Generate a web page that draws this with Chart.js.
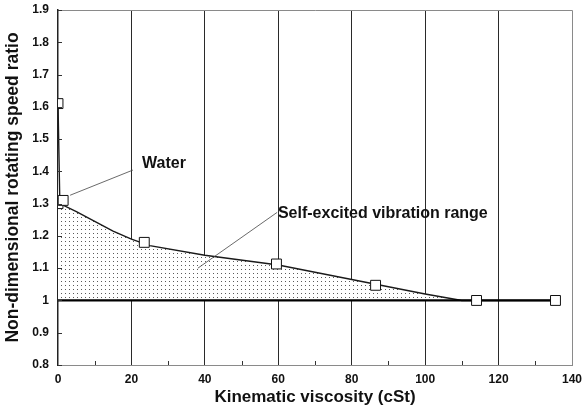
<!DOCTYPE html>
<html>
<head>
<meta charset="utf-8">
<script src="https://cdn.jsdelivr.net/npm/chart.js@4/dist/chart.umd.min.js"></script>
<style>
html,body{margin:0;padding:0;background:#fff;}
#wrap{width:582px;height:412px;position:relative;}
</style>
</head>
<body>
<div id="wrap"><canvas id="c" width="582" height="412"></canvas></div>
<script>
// Boundary curve of the self-excited vibration range
const curveX = [0, 0.5, 5, 10, 15, 20, 25, 40, 60, 80, 100, 110, 135.5];
const curveY = [1.61, 1.30, 1.275, 1.245, 1.215, 1.19, 1.17, 1.14, 1.11, 1.065, 1.02, 1.0, 1.0];
// Measured points (square markers)
const markX = [0, 0, 1.4, 23.5, 59.5, 86.5, 114, 135.5];
const markY = [1.61, 1.30, 1.31, 1.18, 1.113, 1.047, 1.0, 1.0];
// Reference line at ratio 1
const baseX = [0, 135.5];
const baseY = [1.0, 1.0];
// Axis ticks
const xTicks = [0, 20, 40, 60, 80, 100, 120, 140];
const yTicks = ['0.8','0.9','1','1.1','1.2','1.3','1.4','1.5','1.6','1.7','1.8','1.9'];
const xTitle = 'Kinematic viscosity (cSt)';
const yTitle = 'Non-dimensional rotating speed ratio';
const labelWater = 'Water';
const labelRange = 'Self-excited vibration range';

const FONT = '"Liberation Sans", Arial, Helvetica, sans-serif';

function dotPattern(){
  const p = document.createElement('canvas');
  p.width = 4; p.height = 4;
  const g = p.getContext('2d');
  g.fillStyle = '#fff'; g.fillRect(0,0,4,4);
  g.fillStyle = '#5a5a5a'; g.fillRect(1,1,1,1);
  return document.getElementById('c').getContext('2d').createPattern(p,'repeat');
}

const toPts = (xs, ys) => xs.map((x,i)=>({x:x, y:ys[i]}));

const extras = {
  id: 'extras',
  afterDraw(chart){
    const ctx = chart.ctx, a = chart.chartArea;
    const xs = chart.scales.x, ys = chart.scales.y;
    ctx.save();
    // top & right frame
    ctx.strokeStyle = '#8a8a8a'; ctx.lineWidth = 1;
    ctx.beginPath();
    ctx.moveTo(a.left, a.top+0.5); ctx.lineTo(a.right+0.5, a.top+0.5);
    ctx.lineTo(a.right+0.5, a.bottom);
    ctx.stroke();
    // minor ticks inward
    ctx.strokeStyle = '#333';
    ctx.beginPath();
    [10,30,50,70,90,110,130].forEach(v=>{
      const px = Math.round(xs.getPixelForValue(v))+0.5;
      ctx.moveTo(px, a.bottom); ctx.lineTo(px, a.bottom-4);
    });
    yTicks.forEach(t=>{
      const py = Math.round(ys.getPixelForValue(parseFloat(t)))+0.5;
      ctx.moveTo(a.left, py); ctx.lineTo(a.left+4, py);
    });
    ctx.stroke();
    // annotations
    ctx.strokeStyle = '#444'; ctx.lineWidth = 0.8;
    ctx.beginPath();
    ctx.moveTo(xs.getPixelForValue(3.3), ys.getPixelForValue(1.326));
    ctx.lineTo(xs.getPixelForValue(20.4), ys.getPixelForValue(1.404));
    ctx.moveTo(xs.getPixelForValue(38.1), ys.getPixelForValue(1.10));
    ctx.lineTo(xs.getPixelForValue(59.7), ys.getPixelForValue(1.273));
    ctx.stroke();
    ctx.fillStyle = '#111';
    ctx.font = 'bold 16px ' + FONT;
    ctx.textBaseline = 'middle'; ctx.textAlign = 'left';
    ctx.fillText(labelWater, xs.getPixelForValue(22.9), ys.getPixelForValue(1.425));
    ctx.fillText(labelRange, xs.getPixelForValue(59.9), ys.getPixelForValue(1.27));
    ctx.restore();
  }
};

new Chart(document.getElementById('c'), {
  type: 'scatter',
  data: {
    datasets: [
      {
        data: toPts(curveX, curveY),
        showLine: true,
        borderColor: '#1a1a1a',
        borderWidth: 1.4,
        pointRadius: 0,
        tension: 0,
        fill: {value: 1},
        backgroundColor: dotPattern(),
        order: 3
      },
      {
        data: toPts(baseX, baseY),
        showLine: true,
        borderColor: '#000',
        borderWidth: 2.2,
        pointRadius: 0,
        fill: false,
        order: 2
      },
      {
        data: toPts(markX, markY),
        showLine: false,
        pointStyle: 'rect',
        pointRadius: 7,
        borderColor: '#111',
        borderWidth: 1,
        backgroundColor: '#fff',
        order: 1
      }
    ]
  },
  options: {
    responsive: false,
    animation: false,
    devicePixelRatio: 1,
    layout: {padding: {top: 10, right: 10, left: 0, bottom: 0}},
    plugins: {legend: {display: false}, tooltip: {enabled: false}},
    scales: {
      x: {
        type: 'linear', min: 0, max: 140,
        afterBuildTicks: s => { s.ticks = xTicks.map(v=>({value:v})); },
        afterFit: s => { s.height = 47; s.paddingLeft = 0; s.paddingRight = 0; },
        ticks: {
          color: '#111', padding: 7,
          font: {family: FONT, size: 12, weight: 'bold'},
          maxRotation: 0, autoSkip: false
        },
        grid: {
          drawTicks: false,
          color: c => (c.tick && (c.tick.value === 0 || c.tick.value === 140)) ? 'rgba(0,0,0,0)' : '#2a2a2a',
          lineWidth: 1
        },
        border: {display: true, color: '#8a8a8a', width: 1},
        title: {
          display: true, text: xTitle, color: '#111',
          font: {family: FONT, size: 17, weight: 'bold'},
          padding: {top: 0, bottom: 4}
        }
      },
      y: {
        type: 'linear', min: 0.8, max: 1.9,
        afterBuildTicks: s => { s.ticks = yTicks.map(t=>({value: parseFloat(t)})); },
        afterFit: s => { s.width = 58; s.paddingTop = 0; s.paddingBottom = 0; },
        ticks: {
          color: '#111', padding: 9,
          font: {family: FONT, size: 12, weight: 'bold'},
          callback: (v, i) => yTicks[i],
          autoSkip: false
        },
        grid: {display: false, drawTicks: false},
        border: {display: true, color: '#222', width: 1.5},
        title: {
          display: true, text: yTitle, color: '#111',
          font: {family: FONT, size: 17.5, weight: 'bold'},
          padding: {top: 3, bottom: 0}
        }
      }
    }
  },
  plugins: [extras]
});
</script>
</body>
</html>
